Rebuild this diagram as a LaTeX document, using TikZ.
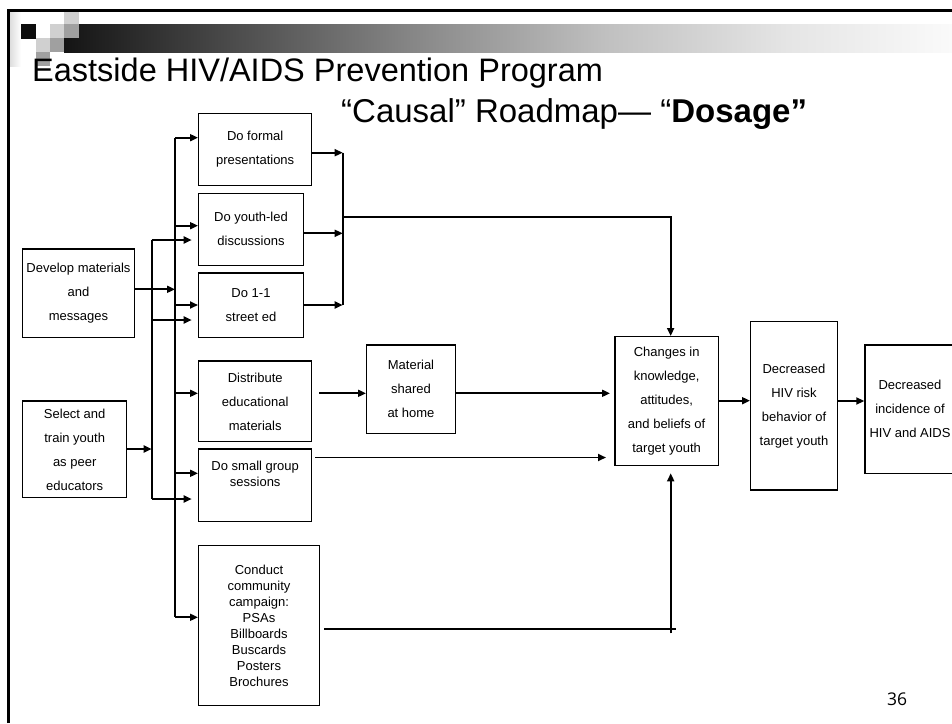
\documentclass[tikz,border=0pt]{standalone}
\usepackage{fontspec}
\setmainfont{Liberation Sans}
\newfontfamily\numfont{Open Sans}
\usetikzlibrary{arrows.meta}

% grey ramp of the header bar
\definecolor{bar0}{RGB}{20,20,20}
\definecolor{bar1}{RGB}{58,58,58}
\definecolor{bar2}{RGB}{138,138,138}
\definecolor{bar3}{RGB}{192,192,192}
\definecolor{bar4}{RGB}{229,229,229}
\definecolor{bar5}{RGB}{250,250,250}
\definecolor{sqlight}{RGB}{208,208,208}
\definecolor{sqmid}{RGB}{160,160,160}
\definecolor{sqdark}{RGB}{12,12,12}
\pgfdeclarehorizontalshading{titlebar}{100bp}{color(0bp)=(bar0); color(25bp)=(bar0); color(31.5bp)=(bar1); color(45.25bp)=(bar2); color(55.5bp)=(bar3); color(65.75bp)=(bar4); color(75bp)=(bar5); color(100bp)=(bar5)}

\tikzset{
  box/.style={draw, line width=1.4pt, inner sep=0pt, align=center,
              font=\fontsize{13}{24}\selectfont},
  conn/.style={line width=1.8pt, line join=miter},
  arr/.style={conn, -{Triangle[length=8pt,width=7pt]}},
}

\begin{document}
\begin{tikzpicture}[x=1pt,y=-1pt]
\useasboundingbox (0,0) rectangle (952,723);
\clip (0,0) rectangle (952,723);
\fill[white] (0,0) rectangle (952,723);

% header decoration
\shade[shading=titlebar] (64,24) rectangle (952,52);
\shade[left color=black!14, right color=white] (9,12) rectangle (21,66);
\fill[sqlight] (64,12) rectangle (79,24);
\fill[sqdark]  (21,24) rectangle (36,39);
\fill[sqlight] (50,24) rectangle (64,38);
\fill[sqmid]   (64,24) rectangle (79,38);
\fill[sqlight] (36,38) rectangle (50,52);
\fill[sqmid]   (50,38) rectangle (64,52);
\fill[sqmid]   (36,52) rectangle (50,66);
\draw[line width=3pt] (8.5,723) -- (8.5,10.5) -- (952,10.5);

% titles
\node[anchor=base west, inner sep=0pt, font=\fontsize{32.5}{39}\selectfont]
  (title) at (32,81) {Eastside HIV/AIDS Prevention Program};
\node[anchor=base west, inner sep=0pt, font=\fontsize{33}{39}\selectfont]
  (subtitle) at (341,122) {“Causal” Roadmap— “\textbf{Dosage”}};

% boxes
\node[box, minimum width=111.6pt, minimum height=88.7pt] (dev) at (78.5,293.35)
  {Develop materials\\and\\messages};
\node[box, minimum width=104pt, minimum height=96.7pt] (select) at (74.7,449.35)
  {Select and\\train youth\\as peer\\educators};
\node[box, minimum width=113pt, minimum height=72pt] (formal) at (255.2,149.3)
  {Do formal\\presentations};
\node[box, minimum width=104.6pt, minimum height=72pt] (youth) at (251,229.3)
  {Do youth-led\\discussions};
\node[box, minimum width=104.6pt, minimum height=64.7pt] (street) at (251,305.35)
  {Do 1-1\\street ed};
\node[box, minimum width=113pt, minimum height=80.7pt] (distr) at (255.2,401.35)
  {Distribute\\educational\\materials};
\node[box, minimum width=113pt, minimum height=72.7pt] (small) at (255.2,485.35) {};
\node[inner sep=0pt, align=center, font=\fontsize{13}{15.7}\selectfont]
  (smalltxt) at (255.2,474) {Do small group\\sessions};
\node[box, minimum width=120.6pt, minimum height=160.4pt,
      font=\fontsize{13}{16}\selectfont] (conduct) at (259,625.5)
  {Conduct\\community\\campaign:\\PSAs\\Billboards\\Buscards\\Posters\\Brochures};
\node[box, minimum width=88.6pt, minimum height=88.3pt] (material) at (411,389.15)
  {Material\\shared\\at home};
\node[box, minimum width=103.3pt, minimum height=129pt] (changes) at (666.65,401.2)
  {Changes in\\knowledge,\\attitudes,\\and beliefs of\\target youth};
\node[box, minimum width=86.6pt, minimum height=168.3pt] (risk) at (794,405.85)
  {Decreased\\HIV risk\\behavior of\\target youth};
\node[box, minimum width=90pt, minimum height=128.3pt] (incid) at (910,409.15)
  {Decreased\\incidence of\\HIV and AIDS};

% slide number
\node[anchor=base west, inner sep=0pt, font=\numfont\fontsize{17.5}{20}\selectfont]
  (pagenum) at (887,705) {36};

% bus lines
\coordinate (aTop) at (175,137.7);
\coordinate (aBot) at (175,617.3);
\coordinate (aDev) at (175,289.3);
\coordinate (aY) at (175,225.7);
\coordinate (aS) at (175,305);
\coordinate (aD) at (175,393.3);
\coordinate (aG) at (175,473.3);
\coordinate (bTop) at (151.7,240);
\coordinate (bMid) at (151.7,320);
\coordinate (bSel) at (151.7,449);
\coordinate (bBot) at (151.7,499);
\coordinate (cTop) at (342.7,152.7);
\coordinate (cY) at (342.7,233.3);
\coordinate (cOut) at (342.7,216.7);
\coordinate (cBot) at (342.7,305);

\draw[conn] (aTop) -- (aBot);
\draw[conn] (bTop) -- (bBot);
\draw[conn] (cTop) -- (cBot);

\draw[arr] (aDev -| dev.east) -- (aDev);
\draw[arr] (bSel -| select.east) -- (bSel);

\draw[arr] (aTop) -- (aTop -| formal.west);
\draw[arr] (aY) -- (aY -| youth.west);
\draw[arr] (aS) -- (aS -| street.west);
\draw[arr] (aD) -- (aD -| distr.west);
\draw[arr] (aG) -- (aG -| small.west);
\draw[arr] (aBot) -- (aBot -| conduct.west);

\coordinate (gapB) at (191.7,0);
\draw[arr] (bTop) -- (bTop -| gapB);
\draw[arr] (bMid) -- (bMid -| gapB);
\draw[arr] (bBot) -- (bBot -| gapB);

\draw[arr] (cTop -| formal.east) -- (cTop);
\draw[arr] (cY -| youth.east) -- (cY);
\draw[arr] (cBot -| street.east) -- (cBot);

\coordinate (chIn) at ([xshift=4pt]changes.north);
\draw[arr] (cOut) -| (chIn);

% right-hand connectors
\coordinate (rowM) at (0,393.3);
\coordinate (mStart) at (319,0);
\coordinate (mEnd) at (610,0);
\draw[arr] (mStart |- rowM) -- (material.west |- rowM);
\draw[arr] (material.east |- rowM) -- (mEnd |- rowM);

\coordinate (rowS) at (0,457.5);
\coordinate (sStart) at (315,0);
\coordinate (sEnd) at (606,0);
\draw[arr] (sStart |- rowS) -- (sEnd |- rowS);

\coordinate (rowC) at (0,629.3);
\coordinate (rowV) at (0,633.3);
\coordinate (kStart) at (324.3,0);
\coordinate (kEnd) at (676,0);
\coordinate (upX) at (670.7,0);
\coordinate (upTip) at (670.7,473.3);
\draw[conn] (kStart |- rowC) -- (kEnd |- rowC);
\draw[arr] (upX |- rowV) -- (upTip);

\coordinate (rowR) at (0,400.7);
\coordinate (rowI) at (0,401);
\draw[arr] (changes.east |- rowR) -- (risk.west |- rowR);
\draw[arr] (risk.east |- rowI) -- (incid.west |- rowI);
\end{tikzpicture}
\end{document}
